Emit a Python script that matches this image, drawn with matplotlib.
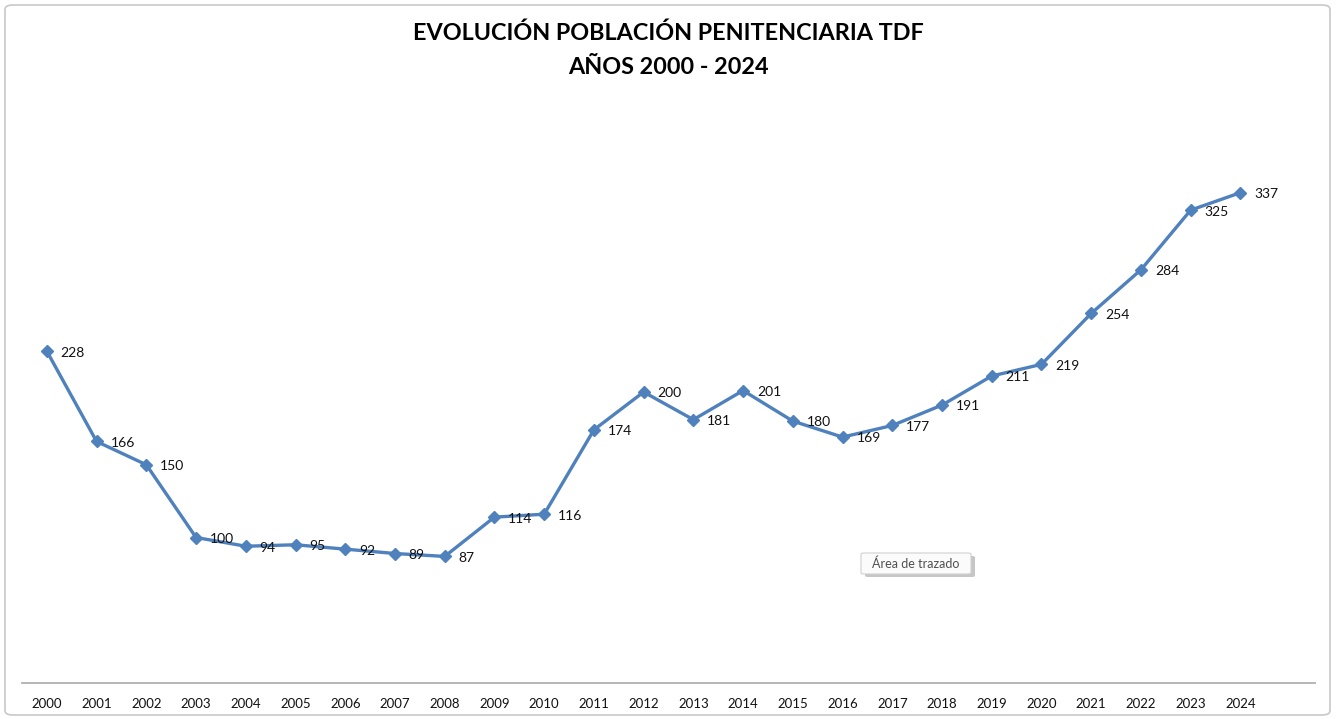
import matplotlib
matplotlib.use("Agg")
import matplotlib.pyplot as plt
from matplotlib.patches import FancyBboxPatch

years = [str(y) for y in range(2000, 2025)]
values = [228, 166, 150, 100, 94, 95, 92, 89, 87, 114, 116, 174, 200, 181, 201,
          180, 169, 177, 191, 211, 219, 254, 284, 325, 337]
title_lines = ["EVOLUCIÓN POBLACIÓN PENITENCIARIA TDF", "AÑOS 2000 - 2024"]

W, H = 1336, 719
fig = plt.figure(figsize=(W / 100, H / 100), dpi=100)
fig.patch.set_facecolor("white")

# chart border
border = FancyBboxPatch((5 / W, 4 / H), 1325 / W, 710 / H,
                        boxstyle="round,pad=0,rounding_size=0.006",
                        transform=fig.transFigure, fill=False,
                        edgecolor="#c8c8c8", linewidth=1.2)
fig.patches.append(border)

ax = fig.add_axes([22 / W, (H - 683) / H, (1315 - 22) / W, (683 - 101) / H])
x = list(range(len(years)))
ax.plot(x, values, color="#4F81BD", linewidth=2.4, marker="D",
        markersize=6.5, markerfacecolor="#4F81BD", markeredgecolor="#4F81BD",
        solid_joinstyle="round")
for xi, v in zip(x, values):
    ax.annotate(str(v), (xi, v), xytext=(10, -1), textcoords="offset points",
                ha="left", va="center", fontsize=10, family="Lato",
                color="#111111")

ax.set_xlim(-0.5, 25.5)
ax.set_ylim(0, 400)
ax.set_xticks(x)
ax.set_xticklabels(years, fontsize=9.5, family="Lato", color="#111111")
ax.tick_params(axis="x", length=0, pad=11)
ax.set_yticks([])
for s in ["top", "right", "left"]:
    ax.spines[s].set_visible(False)
ax.spines["bottom"].set_color("#b0b0b0")
ax.spines["bottom"].set_linewidth(1.3)

fig.text(0.5, 1 - 33 / H, title_lines[0], ha="center", va="center",
         fontsize=16.8, fontweight="bold", family="Lato", color="#000000")
fig.text(0.5, 1 - 68 / H, title_lines[1], ha="center", va="center",
         fontsize=16.8, fontweight="bold", family="Lato", color="#000000")

# tooltip
shadow = FancyBboxPatch((865 / W, (H - 577) / H), 110 / W, 21 / H,
                        boxstyle="round,pad=0,rounding_size=0.002",
                        transform=fig.transFigure, facecolor="#a0a0a0",
                        edgecolor="none", alpha=0.6)
fig.patches.append(shadow)
tip = FancyBboxPatch((861 / W, (H - 574) / H), 110 / W, 21 / H,
                     boxstyle="round,pad=0,rounding_size=0.002",
                     transform=fig.transFigure, facecolor="#fbfbfb",
                     edgecolor="#d0d0d0", linewidth=0.8)
fig.patches.append(tip)
fig.text(916 / W, 1 - 563.5 / H, "Área de trazado", ha="center", va="center",
         fontsize=9, family="Lato", color="#505050")

fig.savefig("out.png", dpi=100)
